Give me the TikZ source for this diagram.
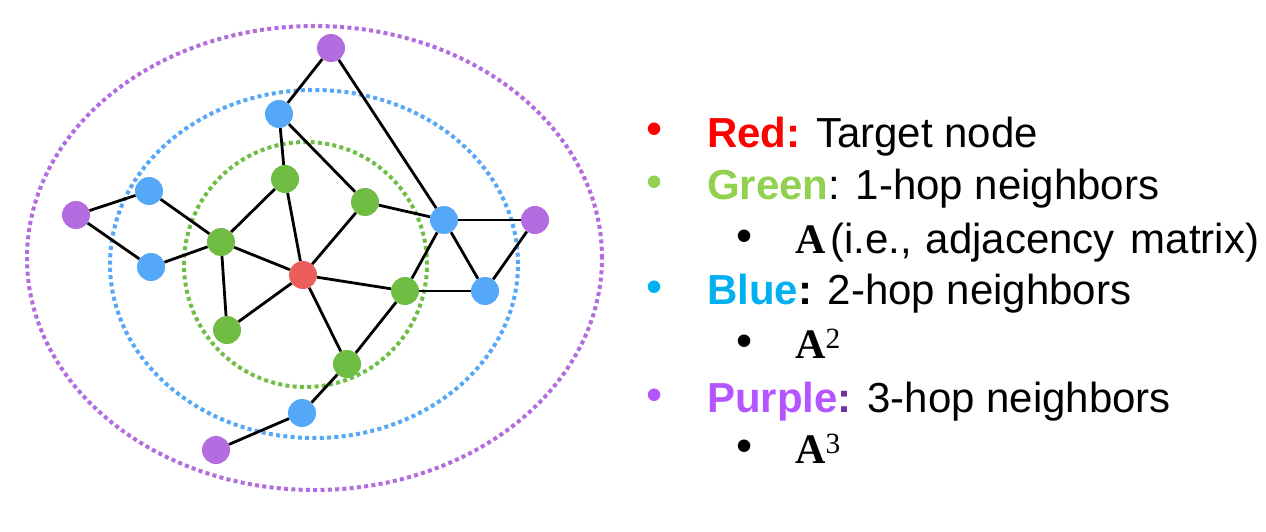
\documentclass[tikz,border=0pt]{standalone}
\usepackage{fontspec}
\setmainfont{Liberation Sans}
\newfontfamily\matfont{Liberation Serif}
\usepackage{tikz}
\usepackage{xcolor}

\definecolor{vRed}{HTML}{EA5D5A}
\definecolor{vGreen}{HTML}{70BD43}
\definecolor{vBlue}{HTML}{55A8F7}
\definecolor{vPurple}{HTML}{B36CDF}
\definecolor{txRed}{HTML}{FF0000}
\definecolor{txGreen}{HTML}{92D050}
\definecolor{txBlue}{HTML}{00B0F0}
\definecolor{txPurple}{HTML}{B455FF}
\definecolor{txPurpleDark}{HTML}{7030A0}

\newcommand{\matA}[1]{{\matfont\textbf{A}\textsuperscript{#1}}}

\begin{document}
\begin{tikzpicture}[x=1pt,y=-1pt,
    vtx/.style={circle,minimum size=28pt,inner sep=0pt},
    ring/.style={line width=4pt,dash pattern=on 4pt off 3.3pt},
    edge/.style={line width=2.8pt},
    legtext/.style={anchor=base west,inner sep=0pt,font=\fontsize{42}{50}\selectfont},
    legdot/.style={anchor=base,inner sep=0pt,font=\fontsize{46}{54}\selectfont}]
    \useasboundingbox (0,0) rectangle (1266,532);

    % Hop rings
    \draw[ring,vPurple] (314.5,258) ellipse [x radius=287.5pt,y radius=232pt];
    \draw[ring,vBlue] (314,264) ellipse [x radius=204pt,y radius=174pt];
    \draw[ring,vGreen] (305.5,264.5) ellipse [x radius=121.5pt,y radius=122.5pt];

    % Nodes
    \node[vtx,fill=vRed] (target) at (303,275) {};
    \node[vtx,fill=vGreen] (gn) at (285,179) {};
    \node[vtx,fill=vGreen] (gne) at (365,202) {};
    \node[vtx,fill=vGreen] (gw) at (221,242) {};
    \node[vtx,fill=vGreen] (gsw) at (227,330) {};
    \node[vtx,fill=vGreen] (ge) at (405,291) {};
    \node[vtx,fill=vGreen] (gs) at (347,364) {};
    \node[vtx,fill=vBlue] (bn) at (279,114) {};
    \node[vtx,fill=vBlue] (bwn) at (149,191) {};
    \node[vtx,fill=vBlue] (bws) at (151,267) {};
    \node[vtx,fill=vBlue] (be) at (444,220) {};
    \node[vtx,fill=vBlue] (bse) at (485,291) {};
    \node[vtx,fill=vBlue] (bs) at (302,413) {};
    \node[vtx,fill=vPurple] (pn) at (331,48) {};
    \node[vtx,fill=vPurple] (pw) at (76,215) {};
    \node[vtx,fill=vPurple] (pe) at (535,220) {};
    \node[vtx,fill=vPurple] (ps) at (216,450) {};

    % Edges
    \draw[edge] (target) -- (gn);
    \draw[edge] (target) -- (gne);
    \draw[edge] (target) -- (gw);
    \draw[edge] (target) -- (gsw);
    \draw[edge] (target) -- (ge);
    \draw[edge] (target) -- (gs);
    \draw[edge] (gw) -- (gn);
    \draw[edge] (gw) -- (gsw);
    \draw[edge] (gw) -- (bwn);
    \draw[edge] (gw) -- (bws);
    \draw[edge] (gn) -- (bn);
    \draw[edge] (gne) -- (bn);
    \draw[edge] (gne) -- (be);
    \draw[edge] (ge) -- (be);
    \draw[edge] (ge) -- (bse);
    \draw[edge] (ge) -- (gs);
    \draw[edge] (gs) -- (bs);
    \draw[edge] (be) -- (bse);
    \draw[edge] (be) -- (pe);
    \draw[edge] (be) -- (pn);
    \draw[edge] (bn) -- (pn);
    \draw[edge] (bse) -- (pe);
    \draw[edge] (bwn) -- (pw);
    \draw[edge] (bws) -- (pw);
    \draw[edge] (bs) -- (ps);

    % Legend
    \node[legdot,txRed] (dotred) at (655,145) {•};
    \node[legtext] (lred) at (707,147) {\textbf{\textcolor{txRed}{Red:}} Target node};
    \node[legdot,txGreen] (dotgreen) at (655,197) {•};
    \node[legtext] (lgreen) at (707,199) {\textbf{\textcolor{txGreen}{Green}}: 1-hop neighbors};
    \node[legdot] (dotone) at (745,251) {•};
    \node[legtext] (lone) at (795,253) {\matA{}\hspace{4pt}(i.e.,\hspace{14pt}adjacency\hspace{16pt}matrix)};
    \node[legdot,txBlue] (dotblue) at (655,302) {•};
    \node[legtext] (lblue) at (707,304) {\textbf{\textcolor{txBlue}{Blue}:} 2-hop neighbors};
    \node[legdot] (dottwo) at (745,356) {•};
    \node[legtext] (ltwo) at (795,358) {\matA{2}};
    \node[legdot,txPurple] (dotpurple) at (655,410) {•};
    \node[legtext] (lpurple) at (707,412) {\textbf{\textcolor{txPurple}{Purple}\textcolor{txPurpleDark}{:}} 3-hop neighbors};
    \node[legdot] (dotthree) at (745,461) {•};
    \node[legtext] (lthree) at (795,463) {\matA{3}};
\end{tikzpicture}
\end{document}
